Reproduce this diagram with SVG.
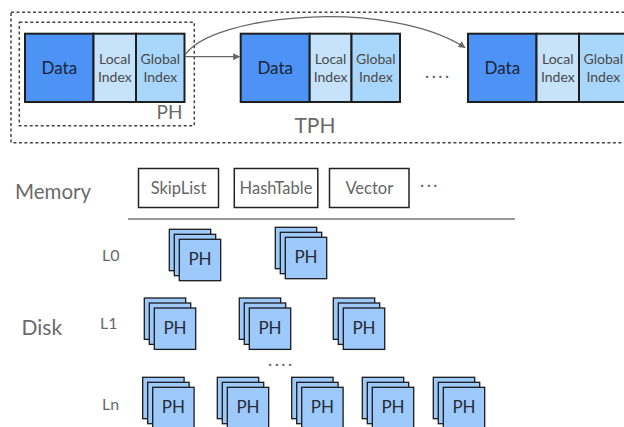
<svg xmlns="http://www.w3.org/2000/svg" width="624" height="427" viewBox="0 0 624 427">
<defs>
<style>
text{font-family:Lato,"Noto Sans",sans-serif;}
.dash{fill:none;stroke:#444;stroke-width:1.5;stroke-dasharray:3 2.5;}
.data{fill:#4d93f6;stroke:#1e1e1e;stroke-width:2;}
.loc{fill:#c6e3fb;stroke:#1e1e1e;stroke-width:2;}
.glo{fill:#a9d7fb;stroke:#1e1e1e;stroke-width:2;}
.tdata{font-size:17px;fill:#1c2333;text-anchor:middle;}
.tidx{font-size:14px;fill:#4a4a4a;text-anchor:middle;}
.lbl{fill:#6a6a6a;}
.mbox{fill:#fff;stroke:#222;stroke-width:1.5;}
.tm{font-size:16.5px;fill:#666;text-anchor:middle;}
.sq{fill:#9dc9fb;stroke:#1a1a1a;stroke-width:1.3;}
.tph{font-size:17px;fill:#262b36;text-anchor:middle;}
.conn{fill:none;stroke:#666;stroke-width:1.3;}
.dots{font-size:16px;fill:#666;letter-spacing:2.5px;}
.lv{font-size:16px;fill:#6a6a6a;}
</style>
<marker id="ah" viewBox="0 0 10 10" refX="9" refY="5" markerWidth="7" markerHeight="7" orient="auto" markerUnits="userSpaceOnUse">
<path d="M0,0 L10,5 L0,10 z" fill="#666"/>
</marker>
</defs>

<g id="tph-frame">
<rect class="dash" x="11" y="12.3" width="625" height="130.4"/>
<text x="315" y="133" font-size="21" class="lbl" text-anchor="middle">TPH</text>
</g>

<g id="ph-frame">
<rect class="dash" x="19.3" y="22.3" width="175" height="103.4"/>
<text x="169.5" y="119" font-size="19" class="lbl" text-anchor="middle">PH</text>
</g>

<g id="block1">
<rect class="data" x="25" y="33.7" width="68.5" height="68.3"/>
<rect class="loc" x="93.5" y="33.7" width="42.5" height="68.3"/>
<rect class="glo" x="136" y="33.7" width="48.5" height="68.3"/>
<text class="tdata" x="59.3" y="73.5">Data</text>
<text class="tidx" x="114.8" y="64">Local</text>
<text class="tidx" x="114.8" y="81.5">Index</text>
<text class="tidx" x="160.3" y="64">Global</text>
<text class="tidx" x="160.3" y="81.5">Index</text>
</g>

<g id="block2">
<rect class="data" x="240.7" y="33.7" width="69" height="68.3"/>
<rect class="loc" x="309.7" y="33.7" width="41.8" height="68.3"/>
<rect class="glo" x="351.5" y="33.7" width="48.5" height="68.3"/>
<text class="tdata" x="275.2" y="73.5">Data</text>
<text class="tidx" x="330.6" y="64">Local</text>
<text class="tidx" x="330.6" y="81.5">Index</text>
<text class="tidx" x="375.8" y="64">Global</text>
<text class="tidx" x="375.8" y="81.5">Index</text>
</g>

<g id="ellipsis-top">
<text class="dots" x="425" y="81">····</text>
</g>

<g id="block3">
<rect class="data" x="468" y="33.7" width="68.5" height="68.3"/>
<rect class="loc" x="536.5" y="33.7" width="42.5" height="68.3"/>
<rect class="glo" x="579" y="33.7" width="48.5" height="68.3"/>
<text class="tdata" x="502.3" y="73.5">Data</text>
<text class="tidx" x="557.8" y="64">Local</text>
<text class="tidx" x="557.8" y="81.5">Index</text>
<text class="tidx" x="603.3" y="64">Global</text>
<text class="tidx" x="603.3" y="81.5">Index</text>
</g>

<g id="connectors">
<path class="conn" d="M185,56.7 L239.5,56.7" marker-end="url(#ah)"/>
<path class="conn" d="M185,55 C212,14 388,-2 465,47.5" marker-end="url(#ah)"/>
</g>

<g id="memory">
<text x="15" y="198.5" font-size="20.5" class="lbl">Memory</text>
<line x1="128" y1="219" x2="515" y2="219" stroke="#777" stroke-width="1.5"/>
</g>
<g id="skiplist">
<rect class="mbox" x="138.5" y="168.5" width="80" height="39"/>
<text class="tm" x="178.5" y="193.5">SkipList</text>
</g>
<g id="hashtable">
<rect class="mbox" x="234.3" y="168.5" width="83.5" height="39"/>
<text class="tm" x="276" y="193.5">HashTable</text>
</g>
<g id="vector">
<rect class="mbox" x="329.5" y="168.5" width="79.5" height="39"/>
<text class="tm" x="369.3" y="193.5">Vector</text>
</g>
<g id="ellipsis-mem">
<text class="dots" x="420" y="190">···</text>
</g>

<g id="labels">
<text x="102" y="260.7" class="lv">L0</text>
<text x="21.5" y="335" font-size="21" class="lbl">Disk</text>
<text x="100" y="329.3" class="lv">L1</text>
<text x="102" y="410" class="lv">Ln</text>
<text class="dots" x="268" y="369">····</text>
</g>

<g id="l0-ph1" transform="translate(169.3,229.3)">
<rect class="sq" x="0" y="0" width="41.4" height="41.4"/><rect class="sq" x="5" y="5" width="41.4" height="41.4"/><rect class="sq" x="10" y="10" width="41.4" height="41.4"/>
<text class="tph" x="30.7" y="36">PH</text>
</g>
<g id="l0-ph2" transform="translate(275.3,227.3)">
<rect class="sq" x="0" y="0" width="41.4" height="41.4"/><rect class="sq" x="5" y="5" width="41.4" height="41.4"/><rect class="sq" x="10" y="10" width="41.4" height="41.4"/>
<text class="tph" x="30.7" y="36">PH</text>
</g>

<g id="l1-ph1" transform="translate(144.3,298)">
<rect class="sq" x="0" y="0" width="41.4" height="41.4"/><rect class="sq" x="5" y="5" width="41.4" height="41.4"/><rect class="sq" x="10" y="10" width="41.4" height="41.4"/>
<text class="tph" x="30.7" y="36">PH</text>
</g>
<g id="l1-ph2" transform="translate(239.3,298)">
<rect class="sq" x="0" y="0" width="41.4" height="41.4"/><rect class="sq" x="5" y="5" width="41.4" height="41.4"/><rect class="sq" x="10" y="10" width="41.4" height="41.4"/>
<text class="tph" x="30.7" y="36">PH</text>
</g>
<g id="l1-ph3" transform="translate(333.3,298)">
<rect class="sq" x="0" y="0" width="41.4" height="41.4"/><rect class="sq" x="5" y="5" width="41.4" height="41.4"/><rect class="sq" x="10" y="10" width="41.4" height="41.4"/>
<text class="tph" x="30.7" y="36">PH</text>
</g>

<g id="ln-ph1" transform="translate(142.7,377.3)">
<rect class="sq" x="0" y="0" width="41.4" height="41.4"/><rect class="sq" x="5" y="5" width="41.4" height="41.4"/><rect class="sq" x="10" y="10" width="41.4" height="41.4"/>
<text class="tph" x="30.7" y="36">PH</text>
</g>
<g id="ln-ph2" transform="translate(217.3,377.3)">
<rect class="sq" x="0" y="0" width="41.4" height="41.4"/><rect class="sq" x="5" y="5" width="41.4" height="41.4"/><rect class="sq" x="10" y="10" width="41.4" height="41.4"/>
<text class="tph" x="30.7" y="36">PH</text>
</g>
<g id="ln-ph3" transform="translate(291.7,377.3)">
<rect class="sq" x="0" y="0" width="41.4" height="41.4"/><rect class="sq" x="5" y="5" width="41.4" height="41.4"/><rect class="sq" x="10" y="10" width="41.4" height="41.4"/>
<text class="tph" x="30.7" y="36">PH</text>
</g>
<g id="ln-ph4" transform="translate(362.3,377.3)">
<rect class="sq" x="0" y="0" width="41.4" height="41.4"/><rect class="sq" x="5" y="5" width="41.4" height="41.4"/><rect class="sq" x="10" y="10" width="41.4" height="41.4"/>
<text class="tph" x="30.7" y="36">PH</text>
</g>
<g id="ln-ph5" transform="translate(433.3,377.3)">
<rect class="sq" x="0" y="0" width="41.4" height="41.4"/><rect class="sq" x="5" y="5" width="41.4" height="41.4"/><rect class="sq" x="10" y="10" width="41.4" height="41.4"/>
<text class="tph" x="30.7" y="36">PH</text>
</g>
</svg>
